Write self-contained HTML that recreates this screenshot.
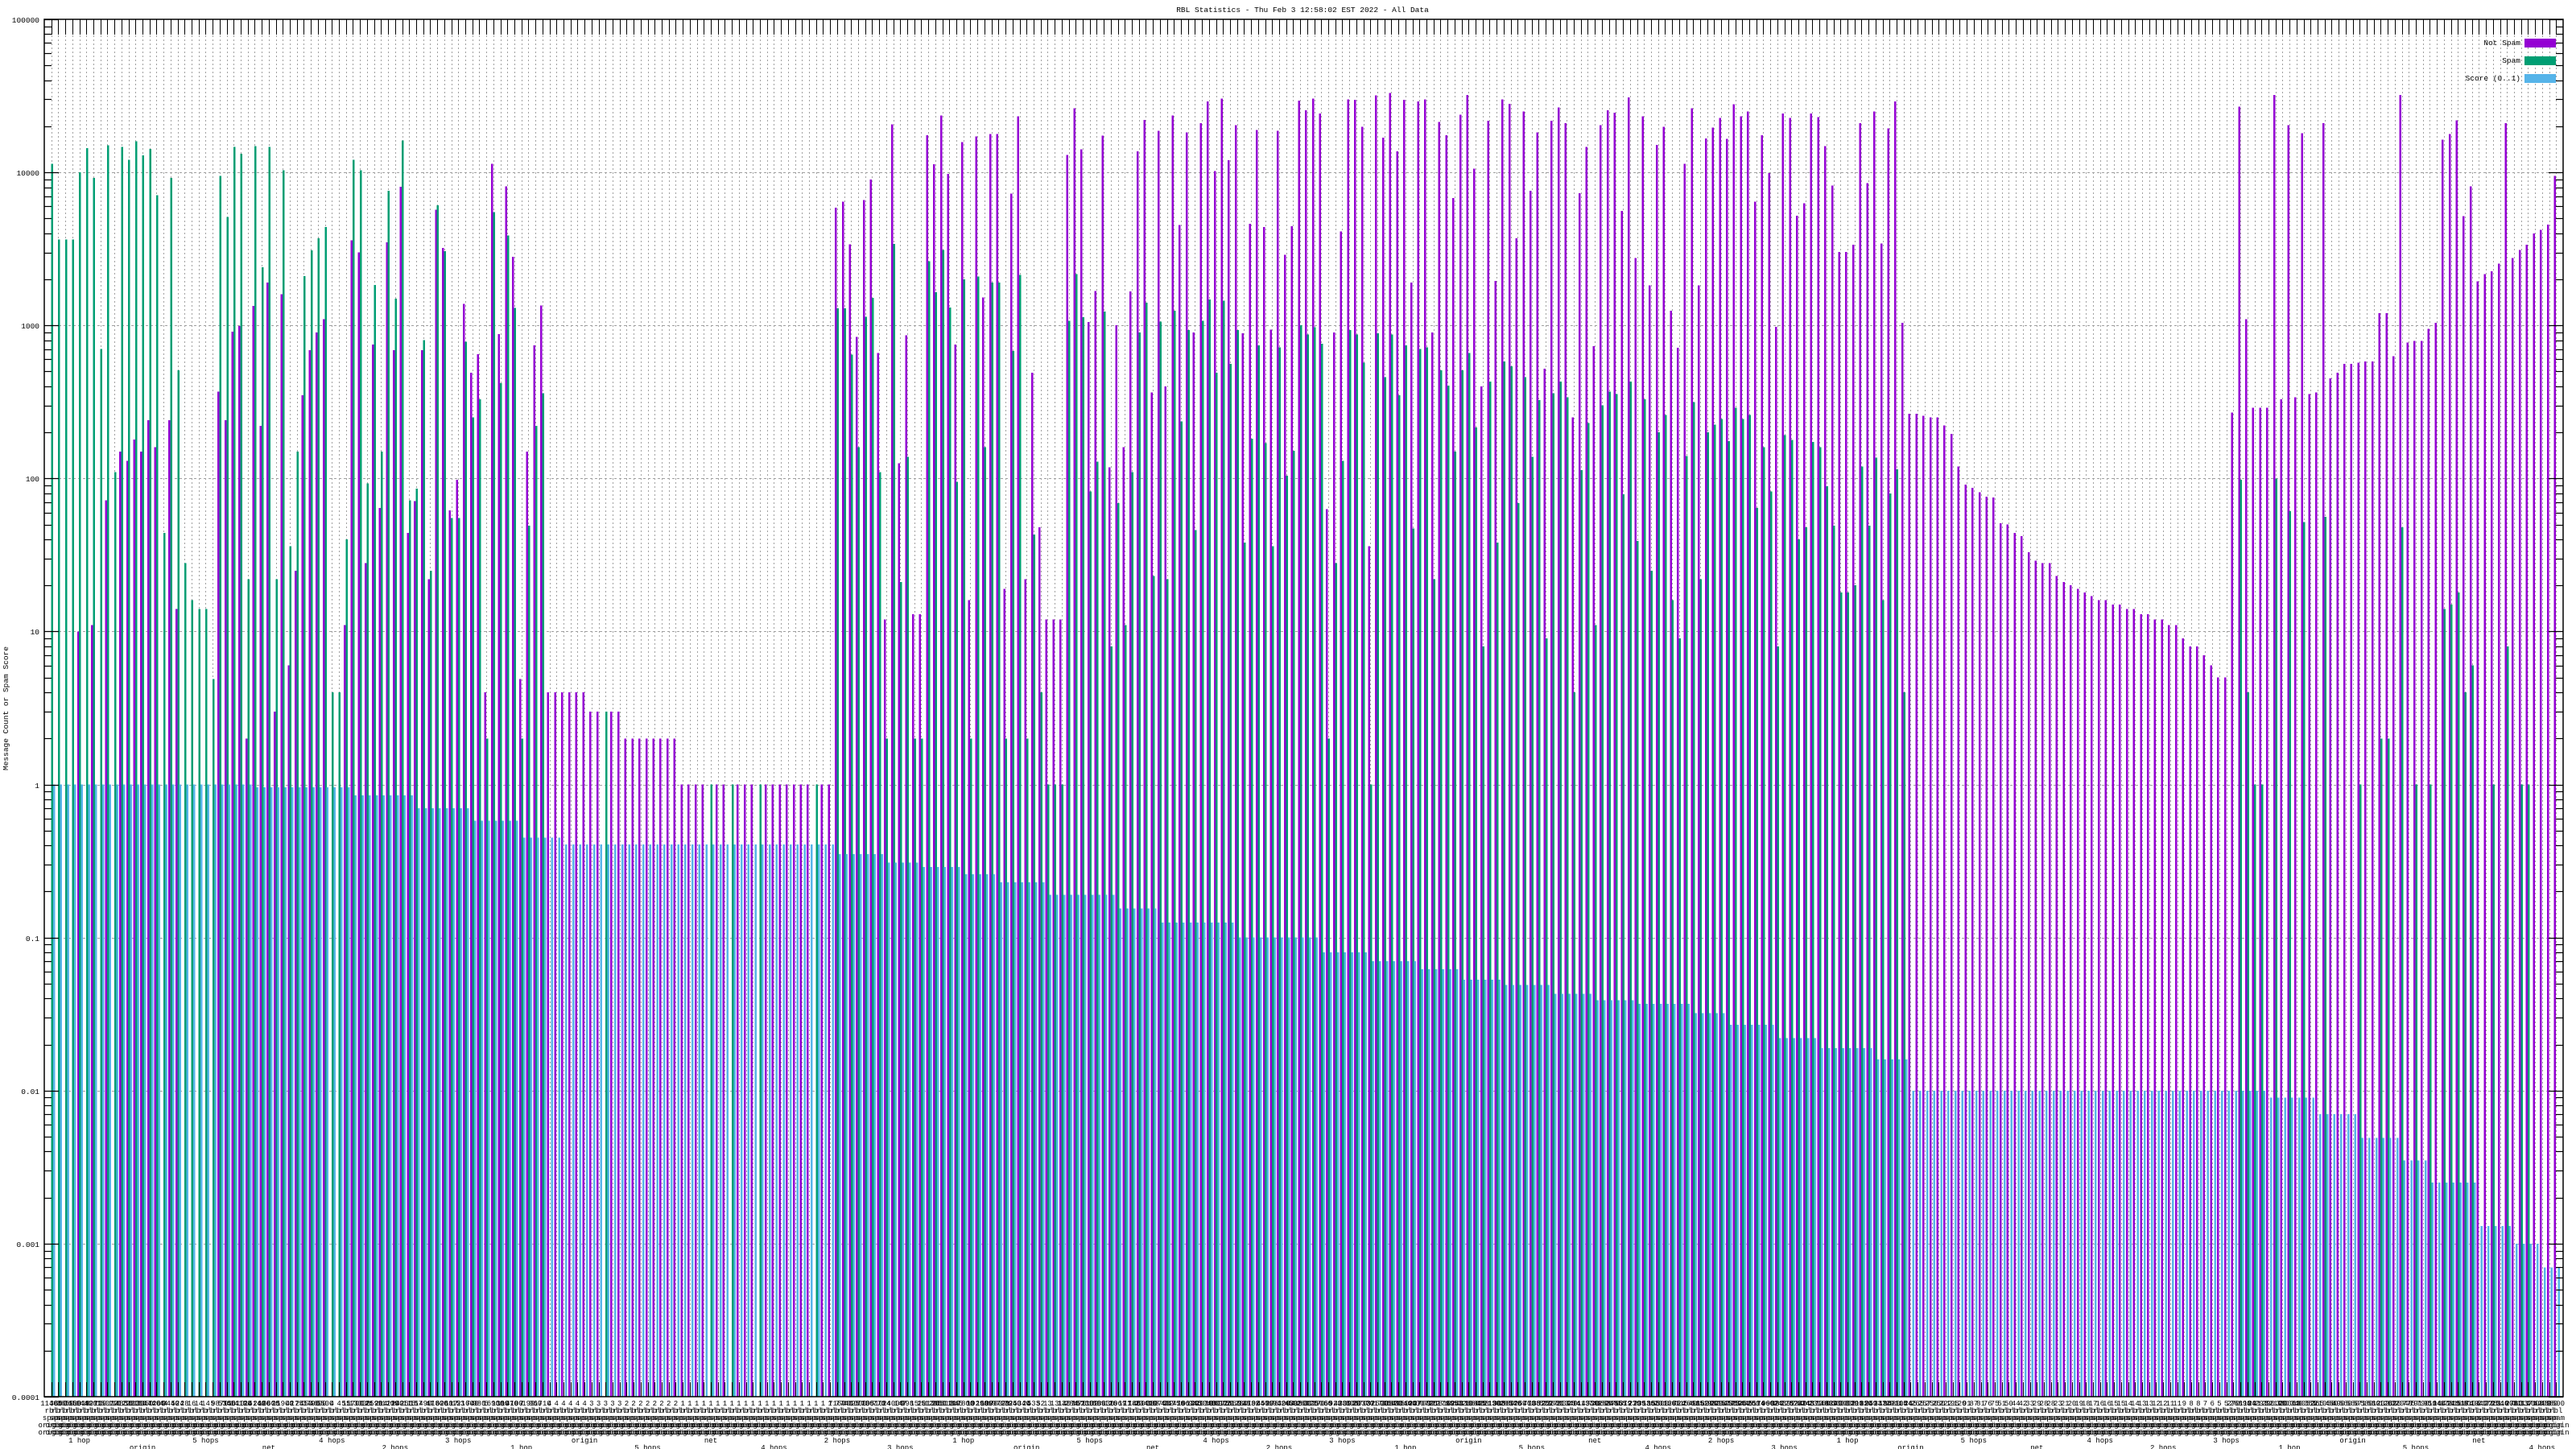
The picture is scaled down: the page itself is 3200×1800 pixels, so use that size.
<!DOCTYPE html>
<html><head><meta charset="utf-8"><style>
html,body{margin:0;padding:0;background:#fff;}
svg{display:block;font-family:"Liberation Mono",monospace;}
</style></head><body>
<svg id="chart" width="3200" height="1800" viewBox="0 0 3200 1800" xmlns="http://www.w3.org/2000/svg">
<rect x="0" y="0" width="3200" height="1800" fill="#fff"/>
<text x="1618" y="15" font-size="9.5" text-anchor="middle" fill="#000">RBL Statistics - Thu Feb  3 12:58:02 EST 2022 - All Data</text>
<text transform="translate(10,880) rotate(-90)" font-size="9.5" text-anchor="middle" fill="#000">Message Count or Spam Score</text>
<g id="grid"></g>
<g id="bars" shape-rendering="crispEdges"></g>
<g id="axes"></g>
<g id="xlabels"></g>
<g id="legend">
<text x="3131" y="56" font-size="9.5" text-anchor="end">Not Spam</text>
<rect x="3136" y="48" width="39" height="11" fill="#9400d3"/>
<text x="3131" y="78" font-size="9.5" text-anchor="end">Spam</text>
<rect x="3136" y="70" width="39" height="11" fill="#009e73"/>
<text x="3131" y="100" font-size="9.5" text-anchor="end">Score (0..1)</text>
<rect x="3136" y="92" width="39" height="11" fill="#56b4e9"/>
</g>
</svg>
<script>
const notSpam=[0,0,0,0,10,0,11,0,72,0,
150,130,180,150,240,160,0,240,14,0,
0,0,0,0,370,240,910,990,2,1340,
220,1900,3,1600,6,25,350,690,900,1100,
0,0,11,3600,3000,28,750,64,3500,690,
8050,44,71,690,22,5700,3200,62,98,1380,
490,650,4,11400,880,8100,2800,4.9,150,740,
1350,4,4,4,4,4,4,3,3,0,
3,3,2,2,2,2,2,2,2,2,
1,1,1,1,0,1,1,0,1,1,
1,0,1,1,1,1,1,1,1,0,
1,1,5870,6450,3380,840,6590,9000,660,12,
20600,126,860,13,13,17500,11300,23500,9800,750,
15800,16,17200,1520,17800,17800,19,7260,23200,22,
490,48,12,12,12,13000,26300,14100,1050,1680,
17400,118,1000,160,1670,13700,22000,365,18700,400,
23500,4530,18200,900,21000,29000,10200,30300,12000,20300,
890,4600,18900,4400,940,18700,2900,4440,29500,25500,
30300,24300,63,900,4100,30000,29700,19800,36,31800,
16900,33000,13700,29700,1900,29000,30000,900,21300,17500,
6800,23800,32000,10600,400,21700,1950,30000,28000,3700,
25000,7600,18200,520,21700,26600,21000,250,7300,14700,
730,20300,25500,24500,5600,30800,2760,23200,1830,15100,
19900,1250,715,11400,26300,1830,16700,19600,22700,16600,
27800,23200,25000,6450,17500,9900,980,24200,22700,5200,
6300,24200,23000,14800,8200,3020,3020,3370,21000,8500,
25000,3420,19400,29000,1040,265,265,257,250,250,
222,195,120,91,87,81,76,75,51,50,
44,42,33,29,28,28,23,21,20,19,
18,17,16,16,15,15,14,14,13,13,
12,12,11,11,9,8,8,7,6,5,
5,270,26800,1100,290,290,290,32000,330,20300,
340,18000,355,365,21000,450,490,560,560,570,
580,580,1200,1200,630,32000,775,790,790,950,
1040,16400,17800,21900,5170,8100,1940,2170,2260,2540,
21000,2760,3110,3370,4000,4200,4560,9500];
const spam=[11400,3650,3650,3650,10000,14400,9200,700,15000,110,
14700,12100,16000,12900,14200,7100,44,9200,510,28,
16,14,14,4.9,9500,5100,14700,13200,22,14800,
2400,14700,22,10300,36,150,2100,3100,3700,4400,
4,4,40,12100,10300,93,1840,150,7600,1500,
16200,72,86,800,25,6100,3060,55,55,780,
250,330,2,5500,420,3870,1300,2,49,220,
360,0,0,0,0,0,0,0,0,3,
0,0,0,0,0,0,0,0,0,0,
0,0,0,0,1,0,0,1,0,0,
0,1,0,0,0,0,0,0,0,1,
0,0,1290,1290,645,160,1140,1510,110,2,
3400,21,138,2,2,2630,1650,3110,1310,95,
2000,2,2090,160,1900,1900,2,680,2140,2,
43,4,1,1,1,1070,2170,1130,82,129,
1230,8,69,11,110,900,1410,23,1060,22,
1250,236,930,46,1070,1480,490,1450,560,930,
38,182,740,170,36,720,104,152,1000,870,
970,760,2,28,130,930,870,570,1,890,
460,870,350,740,47,700,720,22,510,405,
150,510,660,215,8,430,38,580,540,69,
460,138,325,9,360,430,340,4,113,230,
11,300,370,355,79,430,39,330,25,200,
260,16,9,140,315,22,200,225,245,175,
290,245,260,64,160,82,8,192,178,40,
48,173,160,89,49,18,18,20,120,49,
137,16,80,115,4,0,0,0,0,0,
0,0,0,0,0,0,0,0,0,0,
0,0,0,0,0,0,0,0,0,0,
0,0,0,0,0,0,0,0,0,0,
0,0,0,0,0,0,0,0,0,0,
0,0,98,4,1,1,0,100,0,61,
0,52,0,0,56,0,0,0,0,1,
0,0,2,2,0,48,0,1,0,1,
0,14,15,18,4,6,0,0,1,0,
8,0,1,1,0,0,0,0];
const score=[1,1,1,1,1,1,1,1,1,1,
1,1,1,1,1,1,1,1,1,1,
1,1,1,1,1,1,1,1,1,0.96,
0.96,0.96,0.96,0.96,0.96,0.96,0.96,0.96,0.96,0.96,
0.96,0.96,0.96,0.85,0.85,0.85,0.85,0.85,0.85,0.85,
0.85,0.85,0.7,0.7,0.7,0.7,0.7,0.7,0.7,0.7,
0.58,0.58,0.58,0.58,0.58,0.58,0.58,0.45,0.45,0.45,
0.45,0.45,0.45,0.405,0.405,0.405,0.405,0.405,0.405,0.405,
0.405,0.405,0.405,0.405,0.405,0.405,0.405,0.405,0.405,0.405,
0.405,0.405,0.405,0.405,0.405,0.405,0.405,0.405,0.405,0.405,
0.405,0.405,0.405,0.405,0.405,0.405,0.405,0.405,0.405,0.405,
0.405,0.405,0.35,0.35,0.35,0.35,0.35,0.35,0.35,0.31,
0.31,0.31,0.31,0.31,0.29,0.29,0.29,0.29,0.29,0.29,
0.26,0.26,0.26,0.26,0.26,0.23,0.23,0.23,0.23,0.23,
0.23,0.23,0.19,0.19,0.19,0.19,0.19,0.19,0.19,0.19,
0.19,0.19,0.155,0.155,0.155,0.155,0.155,0.155,0.125,0.125,
0.125,0.125,0.125,0.125,0.125,0.125,0.125,0.125,0.125,0.1,
0.1,0.1,0.1,0.1,0.1,0.1,0.1,0.1,0.1,0.1,
0.1,0.08,0.08,0.08,0.08,0.08,0.08,0.08,0.07,0.07,
0.07,0.07,0.07,0.07,0.07,0.062,0.062,0.062,0.062,0.062,
0.062,0.053,0.053,0.053,0.053,0.053,0.053,0.049,0.049,0.049,
0.049,0.049,0.049,0.049,0.043,0.043,0.043,0.043,0.043,0.043,
0.039,0.039,0.039,0.039,0.039,0.039,0.037,0.037,0.037,0.037,
0.037,0.037,0.037,0.037,0.032,0.032,0.032,0.032,0.032,0.027,
0.027,0.027,0.027,0.027,0.027,0.027,0.022,0.022,0.022,0.022,
0.022,0.022,0.019,0.019,0.019,0.019,0.019,0.019,0.019,0.019,
0.016,0.016,0.016,0.016,0.016,0.01,0.01,0.01,0.01,0.01,
0.01,0.01,0.01,0.01,0.01,0.01,0.01,0.01,0.01,0.01,
0.01,0.01,0.01,0.01,0.01,0.01,0.01,0.01,0.01,0.01,
0.01,0.01,0.01,0.01,0.01,0.01,0.01,0.01,0.01,0.01,
0.01,0.01,0.01,0.01,0.01,0.01,0.01,0.01,0.01,0.01,
0.01,0.01,0.01,0.01,0.01,0.01,0.009,0.009,0.009,0.009,
0.009,0.009,0.009,0.007,0.007,0.007,0.007,0.007,0.007,0.0049,
0.0049,0.0049,0.0049,0.0049,0.0049,0.0035,0.0035,0.0035,0.0035,0.0025,
0.0025,0.0025,0.0025,0.0025,0.0025,0.0025,0.0013,0.0013,0.0013,0.0013,
0.0013,0.001,0.001,0.001,0.001,0.0007,0.0007,0.0007];
const yTickLabels=["100000","10000","1000","100","10","1","0.1","0.01","0.001","0.0001"];
const labelWords=["rbl","spam","origin","origin"];
const hopLabels=["1 hop","origin","5 hops","net","4 hops","2 hops","3 hops"];

const NS="http://www.w3.org/2000/svg";
const L=55,R=3184,T=24,B=1735;
const N=notSpam.length;
const S=(R-L)/(N+1);
const logMin=-4,logMax=5;
function xScale(i){return L+(i+1)*S;}
function yScale(v){return T+(logMax-Math.log10(v))*(B-T)/(logMax-logMin);}
function mk(tag,attrs,parent){const e=document.createElementNS(NS,tag);for(const k in attrs)e.setAttribute(k,attrs[k]);parent.appendChild(e);return e;}
const grid=document.getElementById('grid'),bars=document.getElementById('bars'),axes=document.getElementById('axes'),xl=document.getElementById('xlabels');

for(let i=0;i<N;i++){
  const x=Math.round(xScale(i))+0.5;
  const g=mk('line',{x1:x,x2:x,y1:T,y2:B,stroke:'#a0a0a0','stroke-width':1,'stroke-dasharray':'2,3'},grid);
  
  
}
for(let d=logMin+1;d<logMax;d++){
  const y=Math.round(yScale(Math.pow(10,d)))+0.5;
  const g=mk('line',{x1:L,x2:R,y1:y,y2:y,stroke:'#a0a0a0','stroke-width':1,'stroke-dasharray':'3,3'},grid);
  
  
}
const W=2.5;
const series=[[notSpam,'#9400d3',-2.8,'bar-not-spam'],[spam,'#009e73',-0.35,'bar-spam'],[score,'#56b4e9',2.1,'bar-score']];
for(const [arr,col,off,name] of series){
  for(let i=0;i<N;i++){
    const v=arr[i];
    if(!(v>0))continue;
    const y=yScale(v);
    const r=mk('rect',{x:(xScale(i)+off).toFixed(2),y:y.toFixed(2),width:W,height:(B-y).toFixed(2),fill:col},bars);
    
    
  }
}
for(let i=0;i<N;i++){
  const x=Math.round(xScale(i))+0.5;
  const t1=mk('line',{x1:x,x2:x,y1:T,y2:T+19,stroke:'#000','stroke-width':1},axes);
  
  
  const t2=mk('line',{x1:x,x2:x,y1:B,y2:B-18,stroke:'#000','stroke-width':1},axes);
  
  
}
for(let d=logMin;d<=logMax;d++){
  const y=Math.round(yScale(Math.pow(10,d)))+0.5;
  const a=mk('line',{x1:L,x2:L+18,y1:y,y2:y,stroke:'#000','stroke-width':1.2},axes);
  
  
  const b=mk('line',{x1:R,x2:R-18,y1:y,y2:y,stroke:'#000','stroke-width':1.2},axes);
  
  
  const t=mk('text',{x:L-6,y:y+3.5,'font-size':9.5,'text-anchor':'end',fill:'#000'},axes);
  t.textContent=yTickLabels[logMax-d];
  
  
  if(d<logMax){
    for(let m=2;m<=9;m++){
      const ym=Math.round(yScale(m*Math.pow(10,d)))+0.5;
      const c=mk('line',{x1:L,x2:L+9,y1:ym,y2:ym,stroke:'#000','stroke-width':1.2},axes);
      
      
      const e=mk('line',{x1:R,x2:R-9,y1:ym,y2:ym,stroke:'#000','stroke-width':1.2},axes);
      
      
    }
  }
}
const border=mk('rect',{x:L,y:T,width:R-L,height:B-T,fill:'none',stroke:'#000','stroke-width':1.5},axes);


for(let i=0;i<N;i++){
  const x=xScale(i);
  const t=mk('text',{x:x,y:1746,'font-size':9,'text-anchor':'middle',fill:'#000'},xl);
  
  
  const tot=Math.round(notSpam[i]+spam[i]);
  const lines=[String(tot)].concat(labelWords);
  lines.forEach((s,k)=>{const sp=mk('tspan',{x:x,y:1746+k*9},t);sp.textContent=s;});
  if(i%9===4){
    const h=mk('text',{x:x,y:1792+((i/9|0)%2)*9,'font-size':9,'text-anchor':'middle',fill:'#000'},xl);
    h.textContent=hopLabels[(i/9|0)%hopLabels.length];
    
    
  }
}
</script>
</body></html>
